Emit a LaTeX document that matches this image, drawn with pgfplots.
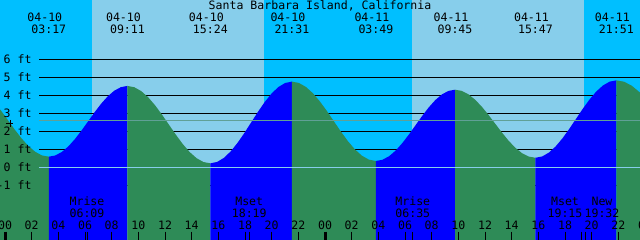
\documentclass[border=0pt]{standalone}
\usepackage{pgfplots}
\pgfplotsset{compat=1.18}
\usepackage{fontspec}
\setmonofont{DejaVu Sans Mono}
\definecolor{night}{HTML}{00BFFF}
\definecolor{day}{HTML}{87CEEB}
\definecolor{rise}{HTML}{0000FF}
\definecolor{fall}{HTML}{2E8B57}
\definecolor{msl}{RGB}{96,160,150}
\definecolor{zeroln}{HTML}{87CEEB}
\begin{document}
\begin{tikzpicture}[font=\ttfamily\fontsize{11.6}{13.9}\selectfont]
\begin{axis}[name=ax, width=640bp, height=240bp, scale only axis, hide axis,
  xmin=-0.375, xmax=47.625, ymin=-4.039, ymax=9.294, clip=true,
  every node/.style={inner sep=0pt}]
% day / night background
\fill[night] (-1,-5) rectangle (6.5,10);
\fill[day] (6.5,-5) rectangle (19.425,10);
\fill[night] (19.425,-5) rectangle (30.5,10);
\fill[day] (30.5,-5) rectangle (43.425,10);
\fill[night] (43.425,-5) rectangle (49,10);
% grid lines
\pgfplotsinvokeforeach{-1,1,2,3,4,5,6}{\draw[black,line width=1bp] (2.55,#1) -- (49,#1);}
% tide (falling = green, rising = blue)
\addplot[fill=fall,draw=none] coordinates {(-2.8,-5) (-2.8,4.600) (-2.293,4.532) (-1.786,4.331) (-1.279,4.013) (-0.772,3.598) (-0.266,3.114) (0.242,2.595) (0.748,2.076) (1.255,1.593) (1.762,1.177) (2.269,0.859) (2.776,0.658) (3.283,0.590) (3.283,-5)} -- cycle;
\addplot[fill=rise,draw=none] coordinates {(3.283,-5) (3.283,0.590) (3.775,0.657) (4.267,0.853) (4.758,1.166) (5.250,1.573) (5.742,2.046) (6.233,2.555) (6.725,3.064) (7.217,3.538) (7.708,3.944) (8.200,4.257) (8.692,4.453) (9.183,4.520) (9.183,-5)} -- cycle;
\addplot[fill=fall,draw=none] coordinates {(9.183,-5) (9.183,4.520) (9.701,4.447) (10.219,4.232) (10.737,3.890) (11.255,3.445) (11.773,2.926) (12.292,2.370) (12.810,1.814) (13.328,1.295) (13.846,0.850) (14.364,0.508) (14.882,0.293) (15.400,0.220) (15.400,-5)} -- cycle;
\addplot[fill=rise,draw=none] coordinates {(15.400,-5) (15.400,0.220) (15.910,0.297) (16.419,0.524) (16.929,0.885) (17.439,1.355) (17.949,1.902) (18.458,2.490) (18.968,3.078) (19.478,3.625) (19.988,4.095) (20.497,4.456) (21.007,4.683) (21.517,4.760) (21.517,-5)} -- cycle;
\addplot[fill=fall,draw=none] coordinates {(21.517,-5) (21.517,4.760) (22.042,4.685) (22.567,4.465) (23.092,4.114) (23.617,3.658) (24.142,3.126) (24.667,2.555) (25.192,1.984) (25.717,1.453) (26.242,0.996) (26.767,0.645) (27.292,0.425) (27.817,0.350) (27.817,-5)} -- cycle;
\addplot[fill=rise,draw=none] coordinates {(27.817,-5) (27.817,0.350) (28.311,0.418) (28.806,0.615) (29.300,0.930) (29.794,1.340) (30.289,1.818) (30.783,2.330) (31.278,2.843) (31.772,3.320) (32.267,3.730) (32.761,4.045) (33.256,4.243) (33.750,4.310) (33.750,-5)} -- cycle;
\addplot[fill=fall,draw=none] coordinates {(33.750,-5) (33.750,4.310) (34.253,4.246) (34.756,4.057) (35.258,3.756) (35.761,3.365) (36.264,2.909) (36.767,2.420) (37.269,1.931) (37.772,1.475) (38.275,1.084) (38.778,0.783) (39.281,0.594) (39.783,0.530) (39.783,-5)} -- cycle;
\addplot[fill=rise,draw=none] coordinates {(39.783,-5) (39.783,0.530) (40.289,0.603) (40.794,0.818) (41.300,1.160) (41.806,1.605) (42.311,2.124) (42.817,2.680) (43.322,3.237) (43.828,3.755) (44.333,4.200) (44.839,4.542) (45.344,4.757) (45.850,4.830) (45.850,-5)} -- cycle;
\addplot[fill=fall,draw=none] coordinates {(45.850,-5) (45.850,4.830) (46.433,4.753) (47.017,4.527) (47.600,4.167) (48.183,3.698) (48.183,-5)} -- cycle;
% mean level and zero lines
\draw[msl,line width=1bp] (2.55,2.61) -- (49,2.61);
\draw[zeroln,line width=1bp] (2.55,0) -- (49,0);
% small cross
\draw[black,line width=1bp] (0.075,2.406) -- (0.6225,2.406);
\draw[black,line width=1bp] (0.375,2.628) -- (0.375,2.256);
% y labels
\pgfplotsinvokeforeach{-1,0,1,2,3,4,5,6}{\node[anchor=base east] at (2.25,#1-0.222) {#1 ft};}
% hour ticks
\pgfplotsinvokeforeach{2,4,6,8,10,12,14,16,18,20,22,26,28,30,32,34,36,38,40,42,44,46}{\draw[black,line width=1bp] (#1,-3.578) -- (#1,-4.2);}
\pgfplotsinvokeforeach{0,24,48}{\draw[black,line width=3bp] (#1,-3.578) -- (#1,-4.2);}
\pgfplotsinvokeforeach{6.15,18.317,30.583,43.25,43.533}{\draw[black,line width=1bp] (#1,-3.578) -- (#1,-4.2);}
% hour labels
\node[anchor=base] at (0,-3.444) {00};
\node[anchor=base] at (2,-3.444) {02};
\node[anchor=base] at (4,-3.444) {04};
\node[anchor=base] at (6,-3.444) {06};
\node[anchor=base] at (8,-3.444) {08};
\node[anchor=base] at (10,-3.444) {10};
\node[anchor=base] at (12,-3.444) {12};
\node[anchor=base] at (14,-3.444) {14};
\node[anchor=base] at (16,-3.444) {16};
\node[anchor=base] at (18,-3.444) {18};
\node[anchor=base] at (20,-3.444) {20};
\node[anchor=base] at (22,-3.444) {22};
\node[anchor=base] at (24,-3.444) {00};
\node[anchor=base] at (26,-3.444) {02};
\node[anchor=base] at (28,-3.444) {04};
\node[anchor=base] at (30,-3.444) {06};
\node[anchor=base] at (32,-3.444) {08};
\node[anchor=base] at (34,-3.444) {10};
\node[anchor=base] at (36,-3.444) {12};
\node[anchor=base] at (38,-3.444) {14};
\node[anchor=base] at (40,-3.444) {16};
\node[anchor=base] at (42,-3.444) {18};
\node[anchor=base] at (44,-3.444) {20};
\node[anchor=base] at (46,-3.444) {22};
\node[anchor=base] at (48,-3.444) {00};
% moon events
\node[anchor=base] at (6.15,-2.150) {Mrise};
\node[anchor=base] at (6.15,-2.800) {06:09};
\node[anchor=base] at (18.317,-2.150) {Mset};
\node[anchor=base] at (18.317,-2.800) {18:19};
\node[anchor=base] at (30.583,-2.150) {Mrise};
\node[anchor=base] at (30.583,-2.800) {06:35};
\node[anchor=base] at (42.0,-2.150) {Mset};
\node[anchor=base] at (42.0,-2.800) {19:15};
\node[anchor=base] at (44.775,-2.150) {New};
\node[anchor=base] at (44.775,-2.800) {19:32};
% high / low labels
\node[anchor=base] at (2.983,8.089) {04-10};
\node[anchor=base] at (3.283,7.422) {03:17};
\node[anchor=base] at (8.883,8.089) {04-10};
\node[anchor=base] at (9.183,7.422) {09:11};
\node[anchor=base] at (15.1,8.089) {04-10};
\node[anchor=base] at (15.4,7.422) {15:24};
\node[anchor=base] at (21.217,8.089) {04-10};
\node[anchor=base] at (21.517,7.422) {21:31};
\node[anchor=base] at (27.517,8.089) {04-11};
\node[anchor=base] at (27.817,7.422) {03:49};
\node[anchor=base] at (33.45,8.089) {04-11};
\node[anchor=base] at (33.75,7.422) {09:45};
\node[anchor=base] at (39.483,8.089) {04-11};
\node[anchor=base] at (39.783,7.422) {15:47};
\node[anchor=base] at (45.55,8.089) {04-11};
\node[anchor=base] at (45.85,7.422) {21:51};
% title
\node[anchor=base] at (23.625,8.739) {Santa Barbara Island, California};
\end{axis}
\pgfresetboundingbox
\path[use as bounding box] (ax.south west) rectangle (ax.north east);
\end{tikzpicture}
\end{document}
